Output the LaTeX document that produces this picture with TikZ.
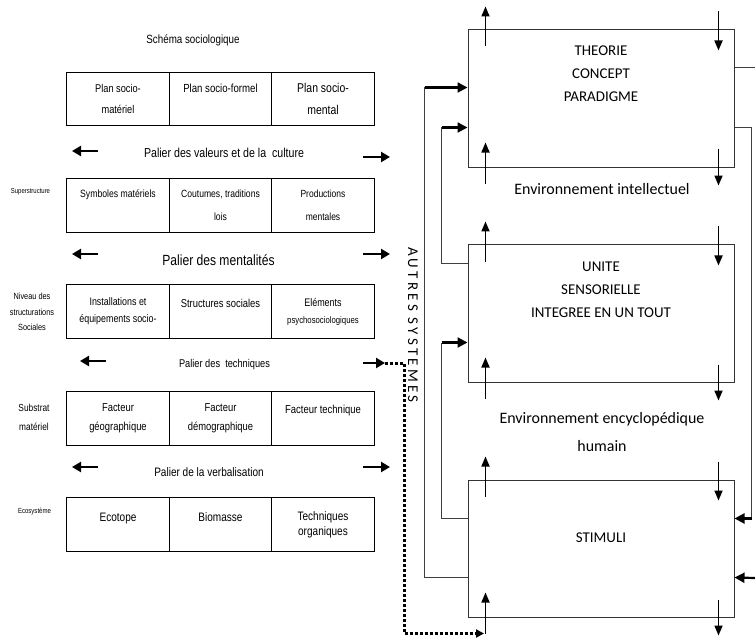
\documentclass[tikz,border=0pt]{standalone}
\usepackage{fontspec}
\setmainfont{Carlito}
\newfontfamily\narrowfont[FakeStretch=0.82]{Liberation Sans}
\newfontfamily\spacedfont[LetterSpace=22]{Carlito}
\usetikzlibrary{positioning, arrows.meta, calc}
\newcommand{\cellfont}[2]{\narrowfont\fontsize{#1}{#2}\selectfont}
\newcommand{\boxfont}[2]{\fontsize{#1}{#2}\selectfont}

\begin{document}
\begin{tikzpicture}[x=1bp, y=-1bp,
    % Default line width for every path
    every path/.style={line width=1bp},
    % Cells of the sociological scheme
    cell/.style={draw=black, line width=1.2bp, minimum width=102.5bp,
      minimum height=53.5bp, inner sep=0pt, align=center},
    % Boxes on the right
    bigbox/.style={draw=black!80, minimum width=266bp, minimum height=137bp, inner sep=0pt},
    boxtext/.style={align=center, inner sep=0pt},
    sidetext/.style={align=center, inner sep=0pt}
  ]
  \useasboundingbox (0,0) rectangle (755,640);

  % --- Define dimensions of the grid ---
  \def\colA{118}   % centre of first column
  \def\colB{220.5} % centre of second column
  \def\colC{323}   % centre of third column

  % --- Styles for arrows and links ---
  \tikzstyle{palarrow}=[line width=2.4bp, -{Triangle[length=9bp, width=10bp]}]
  \tikzstyle{boxarrow}=[line width=1.7bp, -{Triangle[length=10bp, width=8bp]}]
  \tikzstyle{linkline}=[draw=black!75, line width=1bp]
  \tikzstyle{linkarrow}=[line width=2.2bp, -{Triangle[length=10bp, width=10bp]}]
  \tikzstyle{dotlink}=[line width=3bp, dash pattern=on 3bp off 2bp, -{Triangle[length=8bp, width=8bp]}]

  % --- Title ---
  \node[sidetext, font=\cellfont{12}{14}] (titre) at (193,40) {Schéma sociologique};

  % --- Row 1 ---
  \node[cell, font=\cellfont{11.3}{22}] (mat) at (\colA,99) {Plan socio-\\matériel};
  \node[cell, font=\cellfont{11.8}{22}] (form) at (\colB,99) {Plan socio-formel\\\mbox{}};
  \node[cell, font=\cellfont{12.8}{22}] (ment) at (\colC,99) {Plan socio-\\mental};
  \node[font=\cellfont{13}{15}] (palierA) at (224,153) {Palier des valeurs et de la\ \ culture};

  % --- Row 2 ---
  \node[sidetext, font=\cellfont{7.3}{9}] (supLbl) at (30.5,192) {Superstructure};
  \node[cell, font=\cellfont{10.6}{23}] (symb) at (\colA,205.5) {Symboles matériels\\\mbox{}};
  \node[cell, font=\cellfont{10.5}{23}] (cout) at (\colB,205.5) {Coutumes, traditions\\lois};
  \node[cell, font=\cellfont{10.4}{23}] (prod) at (\colC,205.5) {Productions\\mentales};
  \node[font=\cellfont{14.8}{17}] (palierB) at (218.5,260) {Palier des mentalités};

  % --- Row 3 ---
  \node[sidetext, font=\cellfont{9}{15.5}] (nivLbl) at (32,312) {Niveau des\\structurations\\Sociales};
  \node[cell, font=\cellfont{10.9}{17}] (inst) at (\colA,311.5) {Installations et\\équipements socio-};
  \node[cell, font=\cellfont{11.5}{17}] (struc) at (\colB,311.5) {Structures sociales\\\mbox{}};
  \node[cell, font=\cellfont{11}{17}] (elem) at (\colC,311.5) {Eléments\\{\fontsize{9.5}{17}\selectfont psychosociologiques}};
  \node[font=\cellfont{11.3}{13}] (palierC) at (224.5,365) {Palier des\ \ techniques};

  % --- Row 4 ---
  \node[sidetext, font=\cellfont{10.2}{19}] (subLbl) at (34,417.5) {Substrat\\matériel};
  \node[cell, font=\cellfont{11.5}{19}] (geo) at (\colA,418.5) {Facteur\\géographique};
  \node[cell, font=\cellfont{11.5}{19}] (demo) at (\colB,418.5) {Facteur\\démographique};
  \node[cell, font=\cellfont{11.6}{19}] (tech) at (\colC,418.5) {Facteur technique\\\mbox{}};
  \node[font=\cellfont{12.3}{14}] (palierD) at (209,472) {Palier de la verbalisation};

  % --- Row 5 ---
  \node[sidetext, font=\cellfont{7.4}{9}] (ecoLbl) at (34.5,512) {Ecosystème};
  \node[cell, font=\cellfont{12.3}{15}] (ecot) at (\colA,524.5) {Ecotope\\\mbox{}};
  \node[cell, font=\cellfont{12.3}{15}] (bio) at (\colB,524.5) {Biomasse\\\mbox{}};
  \node[cell, font=\cellfont{12.3}{15}] (orga) at (\colC,524.5) {Techniques\\organiques};

  % --- Arrows of the levels ---
  \foreach \xl/\yl/\xr/\yr in {72/151/390/157, 72/254/390/254, 80/361/385/363, 72/467/390/467} {
    \draw[palarrow] (\xl+26,\yl) -- (\xl,\yl);
    \draw[palarrow] (363,\yr) -- (\xr,\yr);
  }
  \coordinate (techTip) at (385,363);

  % --- Boxes on the right ---
  \node[bigbox] (theorie) at (601,98.5) {};
  \node[bigbox] (unite) at (601,313.5) {};
  \node[bigbox] (stimuli) at (601,548.5) {};

  \node[boxtext, font=\boxfont{15}{23}] (theorieTxt) at (601,73.5) {THEORIE\\CONCEPT\\PARADIGME};
  \node[boxtext, font=\boxfont{15}{23}] (uniteTxt) at (601,290) {UNITE\\SENSORIELLE\\INTEGREE EN UN TOUT};
  \node[boxtext, font=\boxfont{15}{18}] (stimuliTxt) at (601,538) {STIMULI};
  \node[boxtext, font=\boxfont{16}{19}] (envA) at (602,189) {Environnement intellectuel};
  \node[boxtext, font=\boxfont{16}{29}] (envB) at (602,432) {Environnement encyclopédique\\humain};

  \node[rotate=-90, inner sep=0pt, font=\spacedfont\fontsize{15}{17}\selectfont] (autres) at (413,325) {AUTRES SYSTEMES};

  % small arrows on every box
  \foreach \b in {theorie, unite, stimuli} {
    \draw[boxarrow] ($(\b.north west)+(18,17)$) -- ++(0,-40);
    \draw[boxarrow] ($(\b.south west)+(18,16)$) -- ++(0,-41);
    \draw[boxarrow] ($(\b.north east)+(-16,-18)$) -- ++(0,39);
    \draw[boxarrow] ($(\b.south east)+(-16,-18)$) -- ++(0,36);
  }

  % --- Links on the left ---
  \coordinate (cA) at ($(theorie.north west)+(-43,58)$);
  \coordinate (cB) at ($(theorie.north west)+(-26,98)$);
  \coordinate (cC) at ($(unite.north west)+(-26,98)$);
  \draw[linkline] ($(stimuli.north west)+(0,98)$) -| (cA);
  \draw[linkarrow] (cA) -- ($(theorie.north west)+(0,58)$);
  \draw[linkline] ($(unite.north west)+(0,19)$) -| (cB);
  \draw[linkarrow] (cB) -- ($(theorie.north west)+(0,98)$);
  \draw[linkline] ($(stimuli.north west)+(0,39)$) -| (cC);
  \draw[linkarrow] (cC) -- ($(unite.north west)+(0,98)$);

  % --- Links on the right ---
  \draw[linkline] ($(theorie.north east)+(0,38)$) -- ++(21,0);
  \coordinate (cD) at ($(theorie.north east)+(17,98)$);
  \draw[linkline] ($(theorie.north east)+(0,98)$) -- (cD) |- ($(stimuli.north east)+(10,39)$);
  \draw[linkarrow] ($(stimuli.north east)+(17,39)$) -- ($(stimuli.north east)+(0,39)$);
  \coordinate (cE) at (755,578);
  \draw[linkarrow] (cE) -- ($(stimuli.north east)+(0,98)$);

  % --- Dotted link from the techniques level ---
  \draw[dotlink] (techTip) -- ++(19,0) |- ($(stimuli.south west)+(16.5,16)$);
\end{tikzpicture}
\end{document}
